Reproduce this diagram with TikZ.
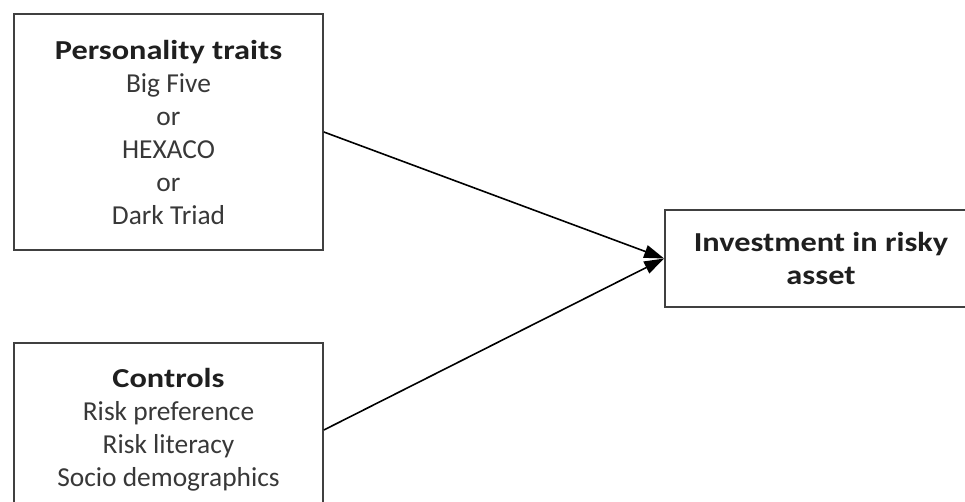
\documentclass[tikz,border=0pt]{standalone}
\usepackage{fontspec}
\setmainfont{Carlito}
\usepackage{graphicx}
\usepackage{tikz}
\usetikzlibrary{arrows.meta,positioning}
\tikzset{
  box/.style={draw=black!75,line width=0.85pt,align=center,inner sep=0pt,
              text=black!78,font=\fontsize{13.7}{16.5}\selectfont},
  ar/.style={-{Triangle[length=10pt,width=6.5pt]},line width=0.8pt}
}
\newcommand{\hd}[1]{\scalebox{1.18}[1]{\bfseries\color{black!88}#1}}

\begin{document}
\begin{tikzpicture}[x=0.5pt,y=-0.5pt]
  \useasboundingbox (0,0) rectangle (965,502);
  \node[box,minimum width=154.5pt,minimum height=118pt] (traits) at (168.5,132)
    {\hd{Personality traits}\\Big Five\\or\\HEXACO\\or\\Dark Triad};
  \node[box,minimum width=154.5pt,minimum height=87pt] (ctrls) at (168.5,430)
    {\hd{Controls}\\Risk preference\\Risk literacy\\Socio demographics};
  \node[box,minimum width=156pt,minimum height=48.5pt] (invest) at (821,258.5)
    {\hd{Investment in risky}\\\hd{asset}};
  % arrows into the outcome
  \draw[ar] (traits.east) -- (invest.west);
  \draw[ar] (ctrls.east) -- (invest.west);
\end{tikzpicture}
\end{document}
